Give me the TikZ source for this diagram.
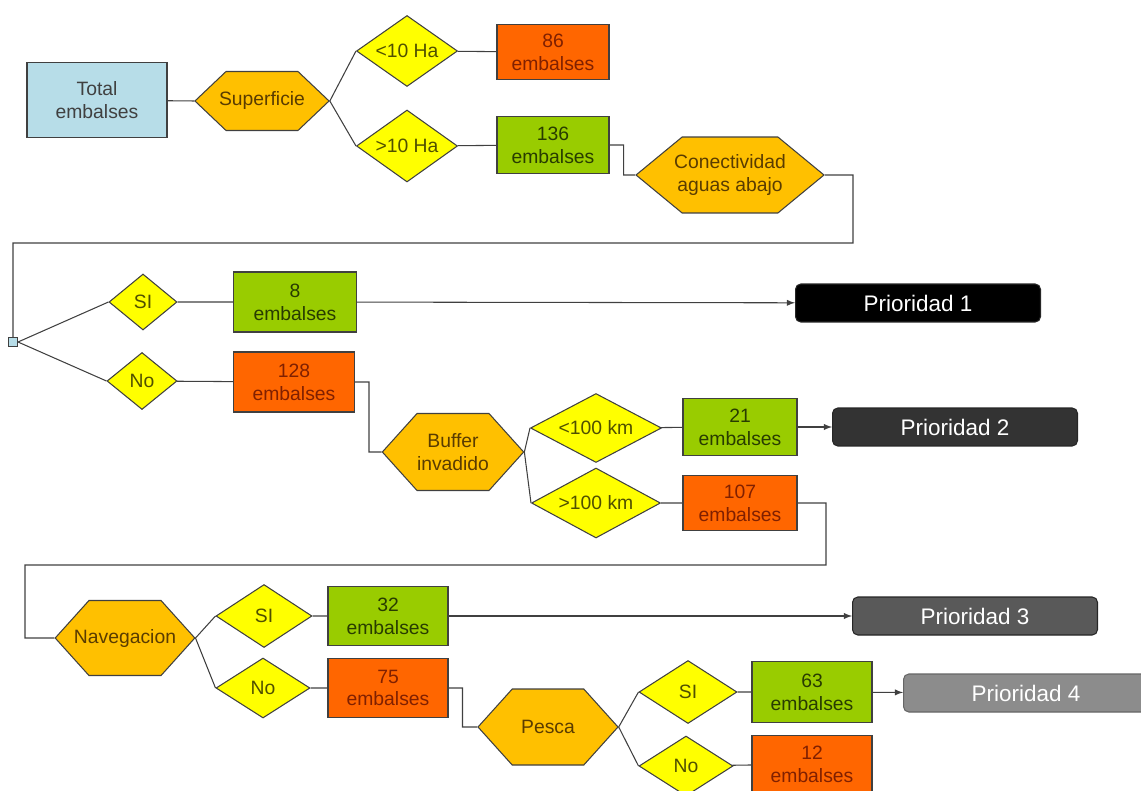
\documentclass[tikz,border=0pt]{standalone}
\usepackage{fontspec}
\setmainfont{Liberation Sans}
\usetikzlibrary{shapes.geometric, shapes.symbols, arrows, positioning}

\definecolor{azulclaro}{RGB}{183,221,232}
\definecolor{naranja}{RGB}{255,102,0}
\definecolor{verde}{RGB}{153,204,0}
\definecolor{ambar}{RGB}{255,192,0}
\definecolor{amarillo}{RGB}{255,255,0}
\definecolor{borde}{RGB}{64,64,64}
\definecolor{marron}{RGB}{90,60,0}
\definecolor{oliva}{RGB}{80,80,0}
\definecolor{verdeosc}{RGB}{40,60,0}
\definecolor{rojoosc}{RGB}{128,32,0}

\tikzset{
    base/.style={draw=borde, line width=0.6pt, align=center, inner sep=0pt,
        font=\fontsize{11}{13}\selectfont},
    caja/.style={base, rectangle, minimum width=2.4cm, minimum height=1.18cm},
    cajasi/.style={caja, fill=verde, text=verdeosc},
    cajano/.style={caja, fill=naranja, text=rojoosc},
    pregunta/.style={base, signal, signal to=west and east, signal pointer angle=96,
        fill=ambar, text=marron},
    rombo/.style={base, diamond, aspect=2, fill=amarillo, text=oliva},
    prioridad/.style={draw=black!85, line width=0.6pt, rounded corners=3pt,
        minimum width=4.9cm, minimum height=0.76cm, text=white,
        font=\fontsize{12.8}{14}\selectfont},
    linea/.style={draw=borde, line width=0.6pt}
}

\begin{document}
\begin{tikzpicture}[>=latex, x=0.02cm, y=-0.02cm]
    \useasboundingbox (0,0) rectangle (1141,790);

    % primer nivel
    \node[base, fill=azulclaro, text=borde, minimum width=2.8cm, minimum height=1.5cm] (tot) at (97,100) {Total\\embalses};
    \node[pregunta, minimum width=2.62cm, minimum height=1.18cm, signal pointer angle=87, inner xsep=-0.14cm] (sup) at (262,101) {Superficie};
    \node[rombo, minimum width=2.02cm, minimum height=1.42cm] (d10a) at (407,51) {<10 Ha};
    \node[rombo, minimum width=2.02cm, minimum height=1.44cm] (d10b) at (407,146) {>10 Ha};
    \node[cajano, minimum width=2.24cm, minimum height=1.1cm] (e86) at (553,52) {86\\embalses};
    \node[cajasi, minimum width=2.24cm, minimum height=1.14cm] (e136) at (553,145) {136\\embalses};
    \node[pregunta, minimum width=3.74cm, minimum height=1.52cm, signal pointer angle=79, inner xsep=-0.16cm] (con) at (730,175) {Conectividad\\aguas abajo};
    \coordinate (vuelta1) at (853,243);

    % conectividad
    \node[base, fill=azulclaro, minimum size=0.18cm] (nudo) at (13,342) {};
    \node[rombo, minimum width=1.36cm, minimum height=1.12cm] (si1) at (143,302) {SI};
    \node[rombo, minimum width=1.4cm, minimum height=1.14cm] (no1) at (142,381) {No};
    \node[cajasi, minimum width=2.46cm, minimum height=1.2cm] (e8) at (295,302) {8\\embalses};
    \node[cajano, minimum width=2.42cm, minimum height=1.2cm] (e128) at (294,382) {128\\embalses};
    \node[prioridad, fill=black] (p1) at (918,303) {Prioridad 1};

    % buffer
    \node[pregunta, minimum width=2.8cm, minimum height=1.54cm] (buf) at (453,452) {Buffer\\invadido};
    \node[rombo, minimum width=2.62cm, minimum height=1.38cm] (d100a) at (596,428) {<100 km};
    \node[rombo, minimum width=2.58cm, minimum height=1.4cm] (d100b) at (596,503) {>100 km};
    \node[cajasi, minimum width=2.28cm, minimum height=1.14cm] (e21) at (740,427) {21\\embalses};
    \node[cajano, minimum width=2.28cm, minimum height=1.1cm] (e107) at (740,503) {107\\embalses};
    \node[prioridad, fill=black!80] (p2) at (955,427) {Prioridad 2};
    \coordinate (vuelta2) at (826,565);
    \coordinate (vuelta3) at (25,565);

    % navegacion
    \node[pregunta, minimum width=2.78cm, minimum height=1.5cm, inner xsep=-0.3cm] (nav) at (125,638) {Navegacion};
    \node[rombo, minimum width=1.92cm, minimum height=1.26cm] (si2) at (264,616) {SI};
    \node[rombo, minimum width=1.88cm, minimum height=1.2cm] (no2) at (263,688) {No};
    \node[cajasi] (e32) at (388,616) {32\\embalses};
    \node[cajano] (e75) at (388,688) {75\\embalses};
    \node[prioridad, fill=black!65] (p3) at (975,616) {Prioridad 3};

    % pesca
    \node[pregunta, minimum width=2.8cm, minimum height=1.52cm] (pes) at (548,727) {Pesca};
    \node[rombo, minimum width=1.96cm, minimum height=1.26cm] (si3) at (688,692) {SI};
    \node[rombo, minimum width=1.88cm, minimum height=1.2cm] (no3) at (686,766) {No};
    \node[cajasi, minimum height=1.22cm] (e63) at (812,692) {63\\embalses};
    \node[cajano, minimum height=1.14cm] (e12) at (812,764) {12\\embalses};
    \node[prioridad, fill=black!45, draw=black!60] (p4) at (1026,693) {Prioridad 4};

    \path[linea]
        (tot) -- (sup.west)
        (sup.east) -- (d10a.west)
        (sup.east) -- (d10b.west)
        (d10a) -- (e86)
        (d10b) -- (e136)
        (e136.east) -- ++(14,0) |- (con.west)
        (con.east) -| (vuelta1) -| (nudo.north)
        (nudo.east) -- (si1.west)
        (nudo.east) -- (no1.west)
        (si1) -- (e8)
        (no1) -- (e128)
        (e128.east) -- ++(14,0) |- (buf.west)
        (buf.east) -- (d100a.west)
        (buf.east) -- (d100b.west)
        (d100a) -- (e21)
        (d100b) -- (e107)
        (e107.east) -| (vuelta2) -- (vuelta3) |- (nav.west)
        (nav.east) -- (si2.west)
        (nav.east) -- (no2.west)
        (si2) -- (e32)
        (no2) -- (e75)
        (e75.east) -- ++(14,0) |- (pes.west)
        (pes.east) -- (si3.west)
        (pes.east) -- (no3.west)
        (si3) -- (e63)
        (no3) -- (e12);
    \draw[linea, ->] (e8) -- (p1);
    \draw[linea, ->] (e21) -- (p2);
    \draw[linea, ->] (e32) -- (p3);
    \draw[linea, ->] (e63) -- (p4);
\end{tikzpicture}
\end{document}
